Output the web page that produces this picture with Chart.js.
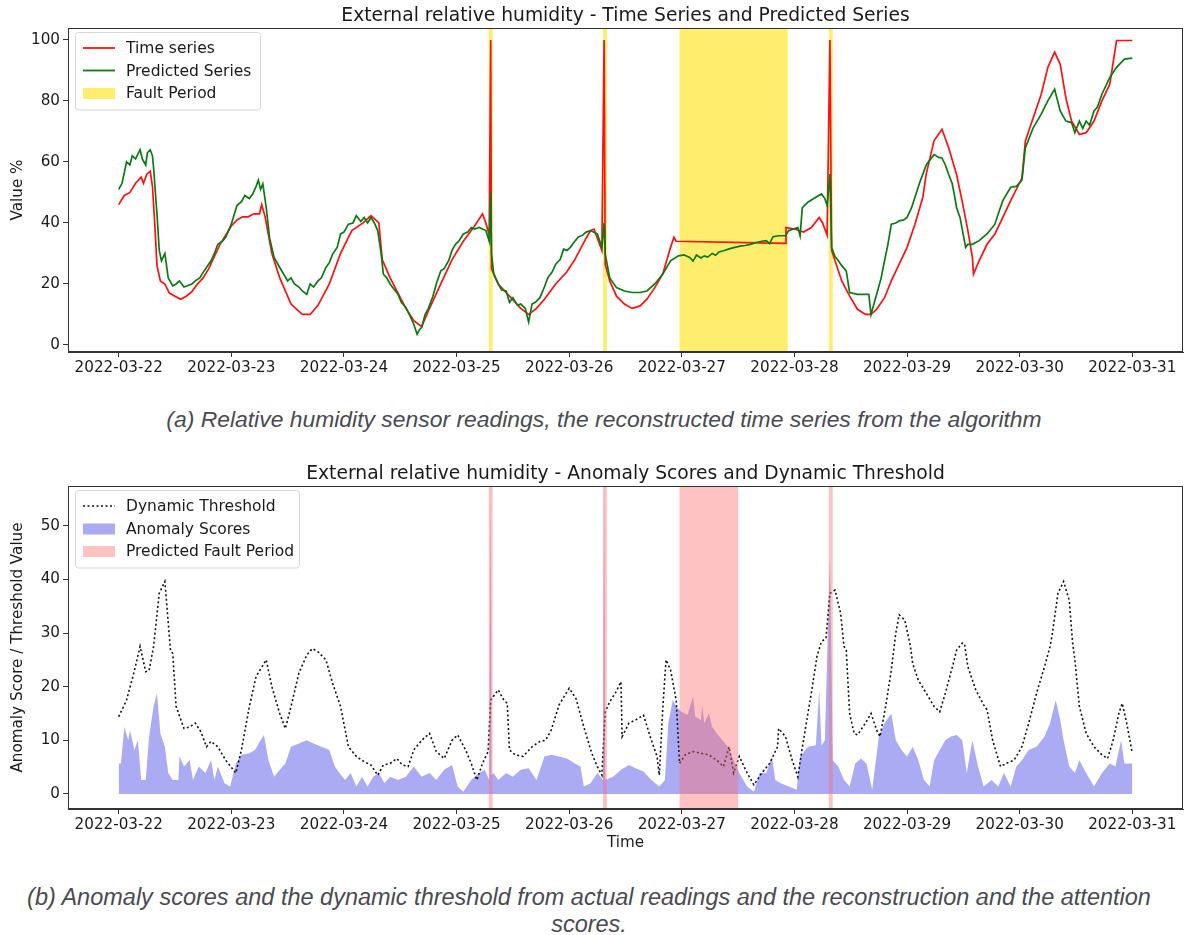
<!DOCTYPE html>
<html>
<head>
<meta charset="utf-8">
<script src="https://cdn.jsdelivr.net/npm/chart.js@4.4.1/dist/chart.umd.min.js"></script>
<style>
  body { margin: 0; background: #fff; width: 1186px; height: 935px; position: relative; overflow: hidden; }
  .box { position: absolute; left: 0; width: 1186px; }
  .cap { position: absolute; left: 0; width: 1186px; text-align: center; font-family: "Liberation Sans", Arial, sans-serif; font-style: italic; color: #4a4a52; }
</style>
</head>
<body>
<div class="box" style="top:0;height:390px"><canvas id="topChart" width="1186" height="390"></canvas></div>
<div class="cap" style="top:406px;left:11px;font-size:22.9px">(a) Relative humidity sensor readings, the reconstructed time series from the algorithm</div>
<div class="box" style="top:455px;height:400px"><canvas id="bottomChart" width="1186" height="400"></canvas></div>
<div class="cap" style="top:884px;left:-4px;line-height:27px;font-size:23.5px">(b) Anomaly scores and the dynamic threshold from actual readings and the reconstruction and the attention<br>scores.</div>
<script>
// x values are days since 2022-03-22 00:00
const dayLabels = ["2022-03-22", "2022-03-23", "2022-03-24", "2022-03-25", "2022-03-26",
                   "2022-03-27", "2022-03-28", "2022-03-29", "2022-03-30", "2022-03-31"];

// measured humidity (red)
const seriesDays = [0,0.05,0.1,0.15,0.2,0.22,0.25,0.28,0.3,0.32,0.34,0.37,0.41,0.45,0.5,0.55,0.6,0.65,0.7,0.75,
  0.8,0.85,0.9,0.95,1.0,1.05,1.1,1.15,1.2,1.25,1.27,1.3,1.33,1.36,1.43,1.53,1.63,1.7,1.77,1.87,
  1.97,2.07,2.17,2.24,2.31,2.34,2.41,2.48,2.55,2.62,2.69,2.76,2.86,2.96,3.06,3.16,3.23,3.26,3.29,3.303,
  3.31,3.37,3.47,3.57,3.64,3.71,3.78,3.88,3.98,4.05,4.15,4.19,4.22,4.29,4.31,4.32,4.36,4.42,4.49,4.56,
  4.63,4.69,4.76,4.83,4.9,4.93,4.95,5.92,5.925,6.0,6.08,6.15,6.22,6.25,6.29,6.315,6.33,6.39,6.42,6.49,
  6.56,6.63,6.68,6.73,6.8,6.86,6.93,7.0,7.07,7.14,7.17,7.24,7.31,7.37,7.44,7.49,7.54,7.58,7.59,7.64,
  7.71,7.78,7.85,7.92,8.02,8.05,8.12,8.19,8.25,8.31,8.36,8.41,8.46,8.53,8.59,8.66,8.73,8.8,8.86,9.0];
const seriesVals = [46,49,50,53,55,53,56,57,52,40,26,21,20,17,16,15,16,17.5,20,22,
  25,29,33,36,39,41,42,42,43,43,46,42,36,30,22,13.4,10,10,13,20,
  30,37.5,40,42.4,40,28,22,17,12,8,6,12,20,28,34,39,43,40,36,100,
  25,20,16,12,10,12,15,20,24,28,35,37.5,38,31,100,26.5,21,16,13.4,12,
  12.8,15,18.8,23.2,32,35.3,34,33.3,38.5,38,37,38.5,41.8,40,36,100,31,24.3,21,16,
  11.7,10,10,11.7,15.5,21,26.5,32,39.6,48.4,56,67,70.7,64.6,55.8,47,37.5,28.7,23.2,27.6,
  33,36.4,41.8,47.3,54.7,66.8,74.5,82,91,96,92,81,73.4,69,69.6,73.4,80,85.5,99.8,99.8];

// reconstruction (green)
const predDays = [0,0.03,0.07,0.1,0.12,0.15,0.19,0.21,0.24,0.255,0.28,0.3,0.31,0.34,0.36,0.38,0.41,0.44,0.48,0.51,
  0.54,0.58,0.61,0.65,0.68,0.72,0.75,0.79,0.82,0.85,0.88,0.92,0.95,1.0,1.05,1.09,1.12,1.16,1.19,1.22,
  1.24,1.26,1.28,1.31,1.34,1.38,1.43,1.5,1.53,1.56,1.6,1.63,1.67,1.7,1.73,1.77,1.8,1.84,1.87,1.9,
  1.94,1.97,2.0,2.04,2.08,2.11,2.15,2.18,2.21,2.24,2.27,2.3,2.33,2.35,2.38,2.41,2.45,2.48,2.51,2.55,
  2.58,2.62,2.65,2.67,2.69,2.72,2.75,2.79,2.82,2.86,2.89,2.93,2.96,2.99,3.02,3.06,3.1,3.13,3.16,3.2,
  3.23,3.26,3.29,3.303,3.31,3.33,3.37,3.4,3.44,3.47,3.5,3.54,3.57,3.61,3.64,3.67,3.7,3.74,3.78,3.81,
  3.85,3.88,3.92,3.95,3.98,4.01,4.05,4.08,4.12,4.15,4.19,4.25,4.29,4.31,4.32,4.36,4.42,4.49,4.56,4.63,
  4.69,4.76,4.83,4.9,4.97,5.02,5.07,5.1,5.13,5.17,5.2,5.23,5.27,5.3,5.33,5.37,5.42,5.47,5.52,5.56,
  5.61,5.66,5.71,5.75,5.78,5.81,5.86,5.92,5.95,5.99,6.03,6.05,6.07,6.12,6.15,6.19,6.24,6.27,6.29,6.315,
  6.33,6.36,6.39,6.42,6.46,6.49,6.56,6.62,6.66,6.68,6.71,6.73,6.77,6.8,6.83,6.86,6.9,6.93,6.97,7.0,
  7.04,7.07,7.11,7.14,7.17,7.21,7.24,7.28,7.31,7.34,7.37,7.4,7.42,7.44,7.47,7.52,7.54,7.58,7.64,7.71,
  7.78,7.81,7.85,7.92,7.97,8.02,8.05,8.12,8.19,8.25,8.31,8.36,8.41,8.46,8.49,8.53,8.56,8.59,8.62,8.66,
  8.69,8.73,8.8,8.86,8.93,9.0];
const predVals = [51,53,60,59,62,61,64,61,59,63,64,62,58,43,31,27.6,30,22,19.4,20,
  21,19,19.4,20,21,22,23.8,26,27.6,30,33,34,35.3,39.6,45.7,47,49,48,49.5,52,
  54,51,52.8,45,35,28.7,25.4,21,22,20,19,17.7,16.6,20,19,21,22,25.4,27,29.8,
  32,36.4,37,39.6,40,42.4,40.5,41.8,40,41.8,40,37.5,30,23.2,22,20,18,16.6,14,12.3,
  10,6.8,3.5,5,5.7,10,12,16,20,24.3,25,27.6,31,33,34,36.4,37,38.5,38,38.5,
  38,37.5,34,50,30,23.2,20,18,17.7,14,15.5,13,13.4,12,7.5,13.4,14,15.5,19,22,
  24,26.5,28,31.4,31,32,34,35.3,36,37,37.5,36.4,32,40,29.8,22,18.8,17.7,17.2,17.2,
  17.7,20,23.2,27.6,29.2,29.5,28.7,27.5,29.5,28.5,29.2,28.8,30,29.4,30.5,30.9,31.5,32,32.4,32.6,
  33,33.6,34,34.2,33.2,35.5,35.8,35.8,37.5,38,38.5,35.8,45,46.8,47.5,48.4,49.5,48,45.7,56,
  32,29,27.6,26,24.3,17.2,16.6,16.6,16.6,10,14,16.6,22,27.6,33,39.6,40,40.7,41,41.8,
  45,48.4,53,56,59,61,62.4,61.5,61.3,59,55.8,53,49.2,45,41.8,32,33,33,34.2,36.4,
  39.6,43,47.3,51.7,52,54,64.6,71.2,75.6,80,83.8,76.7,73.4,72.9,69.6,73.4,71,73.4,72,76.7,
  78,82.2,87.7,91,93.7,94];

// dynamic threshold (dotted)
const threshDays = [0,0.07,0.14,0.19,0.24,0.27,0.31,0.36,0.41,0.46,0.48,0.51,0.58,0.63,0.68,0.73,0.78,0.82,0.88,0.95,
  1.04,1.09,1.16,1.22,1.31,1.36,1.43,1.48,1.53,1.6,1.67,1.72,1.77,1.84,1.9,1.97,2.04,2.11,2.18,2.24,
  2.3,2.35,2.41,2.47,2.52,2.57,2.62,2.69,2.76,2.82,2.89,2.96,3.01,3.08,3.13,3.18,3.23,3.28,3.303,3.37,
  3.42,3.45,3.47,3.52,3.59,3.67,3.74,3.79,3.84,3.91,4.0,4.06,4.13,4.2,4.25,4.29,4.32,4.36,4.41,4.46,
  4.47,4.53,4.59,4.66,4.73,4.78,4.8,4.83,4.86,4.9,4.95,4.98,5.03,5.1,5.17,5.24,5.31,5.37,5.42,5.46,
  5.51,5.58,5.64,5.71,5.78,5.85,5.86,5.92,5.98,6.03,6.08,6.15,6.2,6.24,6.28,6.315,6.36,6.41,6.44,6.46,
  6.49,6.53,6.56,6.63,6.68,6.73,6.76,6.81,6.86,6.9,6.93,6.98,7.03,7.05,7.1,7.17,7.24,7.29,7.34,7.41,
  7.44,7.49,7.51,7.54,7.61,7.68,7.71,7.76,7.83,7.88,7.95,8.02,8.08,8.15,8.22,8.27,8.29,8.34,8.39,8.44,
  8.47,8.49,8.53,8.59,8.66,8.73,8.78,8.83,8.88,8.91,8.95,9.0];
const threshVals = [14.4,17.5,23,27.5,22.8,23,27.5,37.4,39.6,26.8,26.2,16.3,12.2,12.5,13.2,11.6,8.8,9.8,8.8,6.3,
  3.9,8.2,16.3,21.9,25,20,15,12.2,16.3,22.5,25.9,27.1,26.5,25,20.6,16.3,8.8,7,6,5.4,
  3.5,5.4,5.7,6.6,5.4,5.1,8.2,10,11.3,7.9,6.6,10,11,8.2,5.7,2.6,5.7,7.9,17.5,19.4,
  17.5,16.9,8.2,7.3,7,8.8,9.8,10,11.9,16.6,19.7,17.8,12.5,7.6,5.1,3.5,15.3,17.2,18.8,20.9,
  10.7,13.2,13.8,14.7,10,7,3.5,15.6,25,23.1,17.5,5.7,7.3,7.9,7.6,7.3,6.3,5.1,8.8,3.9,
  7,3.9,1.7,3.9,5.7,8.8,12.2,10.7,6.3,3.2,10,18.8,25.6,28.4,29,37.4,38,33.7,27.5,26.8,
  15,11.3,11,13.2,15,11.9,10.7,16.3,23.1,30,33.4,32.4,27.5,24.3,21.2,18.8,16.3,15.3,18.8,24.3,
  26.8,28.1,28,23.7,19.4,16.6,15.7,10,5.1,5.7,6.3,8.8,13.2,18.8,23.7,27.5,29.9,37.4,39.6,36.1,
  28.1,25,16.3,11.3,8.8,7.3,6.6,10,15,16.9,13.2,7.6];

// anomaly scores (filled)
const scoreDays = [0,0.02,0.05,0.085,0.1,0.14,0.17,0.2,0.24,0.27,0.31,0.34,0.37,0.41,0.44,0.48,0.53,0.54,0.58,0.63,
  0.66,0.71,0.77,0.82,0.85,0.88,0.94,0.99,1.04,1.09,1.16,1.21,1.26,1.29,1.33,1.38,1.43,1.48,1.53,1.6,
  1.67,1.73,1.8,1.87,1.92,1.96,2.01,2.06,2.11,2.16,2.21,2.26,2.31,2.36,2.41,2.48,2.55,2.62,2.69,2.76,
  2.82,2.89,2.96,3.01,3.06,3.13,3.2,3.25,3.29,3.303,3.31,3.33,3.37,3.44,3.5,3.57,3.64,3.71,3.78,3.84,
  3.91,3.98,4.05,4.1,4.13,4.19,4.25,4.3,4.31,4.32,4.39,4.46,4.53,4.59,4.66,4.73,4.8,4.85,4.88,4.92,
  4.95,5.0,5.05,5.1,5.12,5.17,5.18,5.2,5.24,5.27,5.31,5.36,5.41,5.46,5.51,5.58,5.64,5.69,5.75,5.8,
  5.83,5.88,5.95,6.02,6.05,6.12,6.19,6.22,6.24,6.27,6.315,6.34,6.39,6.44,6.49,6.54,6.59,6.64,6.69,6.75,
  6.8,6.86,6.9,6.95,7.0,7.05,7.1,7.15,7.2,7.24,7.29,7.34,7.39,7.44,7.49,7.53,7.58,7.63,7.68,7.75,
  7.81,7.86,7.92,7.97,8.02,8.08,8.15,8.22,8.27,8.32,8.36,8.39,8.44,8.49,8.53,8.59,8.66,8.73,8.8,8.85,
  8.9,8.93,9.0];
const scoreVals = [5.7,5.7,12.5,10,11.9,8.2,10,2.6,2.6,10.7,16.3,18.8,11.3,8.8,3.9,2.6,2.6,7,5.1,6.3,
  2.6,5.1,3.9,6.3,2.6,5.1,2,1.4,5.7,7.3,7.6,8.2,10,11,6.3,3.2,4.5,5.7,8.8,9.4,
  10,9.4,8.8,8.2,5.1,3.9,2.6,3.9,1.4,3.2,1.4,3.2,3.9,2,3.2,2.6,3.2,5.1,3.2,3.9,
  2.6,4.5,5.4,1.4,0.4,2.6,3.9,4.5,2.6,60,3.5,3.9,2.6,3.9,3.2,4.5,4.8,2.6,7,7.3,
  7,6.6,5.7,5.1,1.4,2,3.9,2.6,60,2.6,3.2,4.5,5.4,4.8,4.2,2.6,1.4,2.6,13.2,17.5,
  16.3,15.3,14.7,18.1,14.4,13.8,16.6,13.2,15,12.5,11.3,10,8.8,6.3,3.9,1.4,0.4,3.9,3.9,7,
  2.6,2,1.4,0.8,7,8.8,9.1,19.4,9,10,44,6.3,5.1,2.6,1.4,5.7,6.6,5.7,0.8,10.7,
  13.2,15,10,8.2,7,8.8,6.3,2.6,1.4,6.3,8.2,10,10.7,11,10,3.9,10,5.1,1.4,2.6,
  1.4,3.9,1.4,5.1,6.3,8.2,8.8,10.7,13.2,17.5,13.8,10,5.1,3.9,6.3,3.9,1.4,3.9,5.7,5.1,
  10,5.7,5.7];

// shaded periods
const faultStart = [3.286, 4.30, 4.98, 6.305];
const faultEnd   = [3.32, 4.335, 5.94, 6.34];
const predFaultStart = [3.286, 4.30, 4.98, 6.305];
const predFaultEnd   = [3.32, 4.335, 5.50, 6.34];

const toPoints = (xs, ys) => xs.map((x, i) => ({ x: x, y: ys[i] }));

// shaded spans, frame, title and in-axes legend, matplotlib style
const decor = {
  id: "decor",
  beforeDatasetsDraw(chart, args, o) { if (o.spansBehind) drawSpans(chart, o); },
  afterDatasetsDraw(chart, args, o) { if (!o.spansBehind) drawSpans(chart, o); },
  afterDraw(chart, args, o) {
    const ctx = chart.ctx, ca = chart.chartArea;
    ctx.save();
    ctx.strokeStyle = "#333";
    ctx.lineWidth = 1;
    ctx.strokeRect(ca.left + 0.5, ca.top + 0.5, ca.width - 1, ca.height - 1);

    ctx.fillStyle = "#1a1a1a";
    ctx.font = '18.7px "DejaVu Sans"';
    ctx.textAlign = "center";
    ctx.textBaseline = "alphabetic";
    ctx.fillText(o.title, (ca.left + ca.right) / 2, ca.top - 7);

    // legend box
    const x0 = ca.left + 7, y0 = ca.top + 4, rowH = 22.5;
    const h = 10 + o.items.length * rowH;
    ctx.beginPath();
    ctx.roundRect(x0 + 0.5, y0 + 0.5, o.legendWidth, h, 3);
    ctx.fillStyle = "rgba(255,255,255,0.85)";
    ctx.fill();
    ctx.strokeStyle = "#d6d6d6";
    ctx.stroke();
    ctx.font = '15.5px "DejaVu Sans"';
    ctx.textAlign = "left";
    ctx.textBaseline = "middle";
    o.items.forEach((it, i) => {
      const cy = y0 + 16 + i * rowH;
      const hx = x0 + 8;
      if (it.kind === "line") {
        ctx.beginPath();
        ctx.setLineDash(it.dash || []);
        ctx.strokeStyle = it.color;
        ctx.lineWidth = it.width || 1.8;
        ctx.moveTo(hx, cy);
        ctx.lineTo(hx + 32, cy);
        ctx.stroke();
        ctx.setLineDash([]);
      } else {
        ctx.fillStyle = it.color;
        ctx.fillRect(hx, cy - 5, 32, 11);
      }
      ctx.fillStyle = "#1a1a1a";
      ctx.fillText(it.label, x0 + 51, cy + 1);
    });
    ctx.restore();
  }
};

function drawSpans(chart, o) {
  const ctx = chart.ctx, ca = chart.chartArea, xs = chart.scales.x;
  ctx.save();
  ctx.fillStyle = o.spanColor;
  o.spanStart.forEach((s, i) => {
    const a = xs.getPixelForValue(s), b = xs.getPixelForValue(o.spanEnd[i]);
    ctx.fillRect(a, ca.top, b - a, ca.height);
  });
  ctx.restore();
}

function axes(yMin, yMax, yTicks, yTitle, xTitle, xHeight) {
  const tickFont = { family: "DejaVu Sans", size: 15.2 };
  return {
    x: {
      type: "linear", min: -0.45, max: 9.45,
      afterBuildTicks: ax => { ax.ticks = dayLabels.map((d, i) => ({ value: i })); },
      afterFit: ax => { ax.height = xHeight; },
      ticks: { callback: v => dayLabels[v], font: tickFont, color: "#1a1a1a", maxRotation: 0, autoSkip: false, padding: 2 },
      grid: { drawOnChartArea: false, tickLength: 5, color: "#333" },
      border: { color: "#333" },
      title: { display: !!xTitle, text: xTitle || "", font: tickFont, color: "#1a1a1a", padding: { top: 0, bottom: 3 } }
    },
    y: {
      min: yMin, max: yMax,
      afterBuildTicks: ax => { ax.ticks = yTicks.map(v => ({ value: v })); },
      afterFit: ax => { ax.width = 68; },
      ticks: { font: tickFont, color: "#1a1a1a", padding: 3 },
      grid: { drawOnChartArea: false, tickLength: 5, color: "#333" },
      border: { color: "#333" },
      title: { display: true, text: yTitle, font: tickFont, color: "#1a1a1a", padding: { top: 9, bottom: 0 } }
    }
  };
}

const common = { responsive: false, animation: false, devicePixelRatio: 1, events: [],
  elements: { point: { radius: 0 }, line: { tension: 0 } } };

new Chart(document.getElementById("topChart"), {
  type: "line",
  data: {
    datasets: [
      { label: "Predicted Series", data: toPoints(predDays, predVals), borderColor: "#0a7a12", borderWidth: 1.7 },
      { label: "Time series", data: toPoints(seriesDays, seriesVals), borderColor: "#ff1010", borderWidth: 1.7 }
    ]
  },
  options: Object.assign({}, common, {
    layout: { padding: { top: 28, right: 3, left: 0, bottom: 0 } },
    scales: axes(-2.3, 103.9, [0, 20, 40, 60, 80, 100], "Value %", null, 38),
    plugins: {
      legend: { display: false }, tooltip: { enabled: false },
      decor: {
        title: "External relative humidity - Time Series and Predicted Series",
        spansBehind: true, spanColor: "rgba(255,232,60,0.75)",
        spanStart: faultStart, spanEnd: faultEnd, legendWidth: 185,
        items: [
          { kind: "line", color: "#ff1010", label: "Time series" },
          { kind: "line", color: "#0a7a12", label: "Predicted Series" },
          { kind: "patch", color: "rgba(255,232,60,0.75)", label: "Fault Period" }
        ]
      }
    }
  }),
  plugins: [decor]
});

new Chart(document.getElementById("bottomChart"), {
  type: "line",
  data: {
    datasets: [
      { label: "Dynamic Threshold", data: toPoints(threshDays, threshVals), borderColor: "#111", borderWidth: 1.6, borderDash: [2, 2.5] },
      { label: "Anomaly Scores", data: toPoints(scoreDays, scoreVals), borderWidth: 0, fill: "origin", backgroundColor: "rgba(115,115,235,0.6)" }
    ]
  },
  options: Object.assign({}, common, {
    layout: { padding: { top: 31, right: 3, left: 0, bottom: 0 } },
    scales: axes(-2.8, 57.4, [0, 10, 20, 30, 40, 50], "Anomaly Score / Threshold Value", "Time", 46),
    plugins: {
      legend: { display: false }, tooltip: { enabled: false },
      decor: {
        title: "External relative humidity - Anomaly Scores and Dynamic Threshold",
        spansBehind: false, spanColor: "rgba(255,110,110,0.42)",
        spanStart: predFaultStart, spanEnd: predFaultEnd, legendWidth: 224,
        items: [
          { kind: "line", color: "#111", dash: [2, 2.5], width: 1.6, label: "Dynamic Threshold" },
          { kind: "patch", color: "rgba(115,115,235,0.6)", label: "Anomaly Scores" },
          { kind: "patch", color: "rgba(255,110,110,0.42)", label: "Predicted Fault Period" }
        ]
      }
    }
  }),
  plugins: [decor]
});
</script>
</body>
</html>
